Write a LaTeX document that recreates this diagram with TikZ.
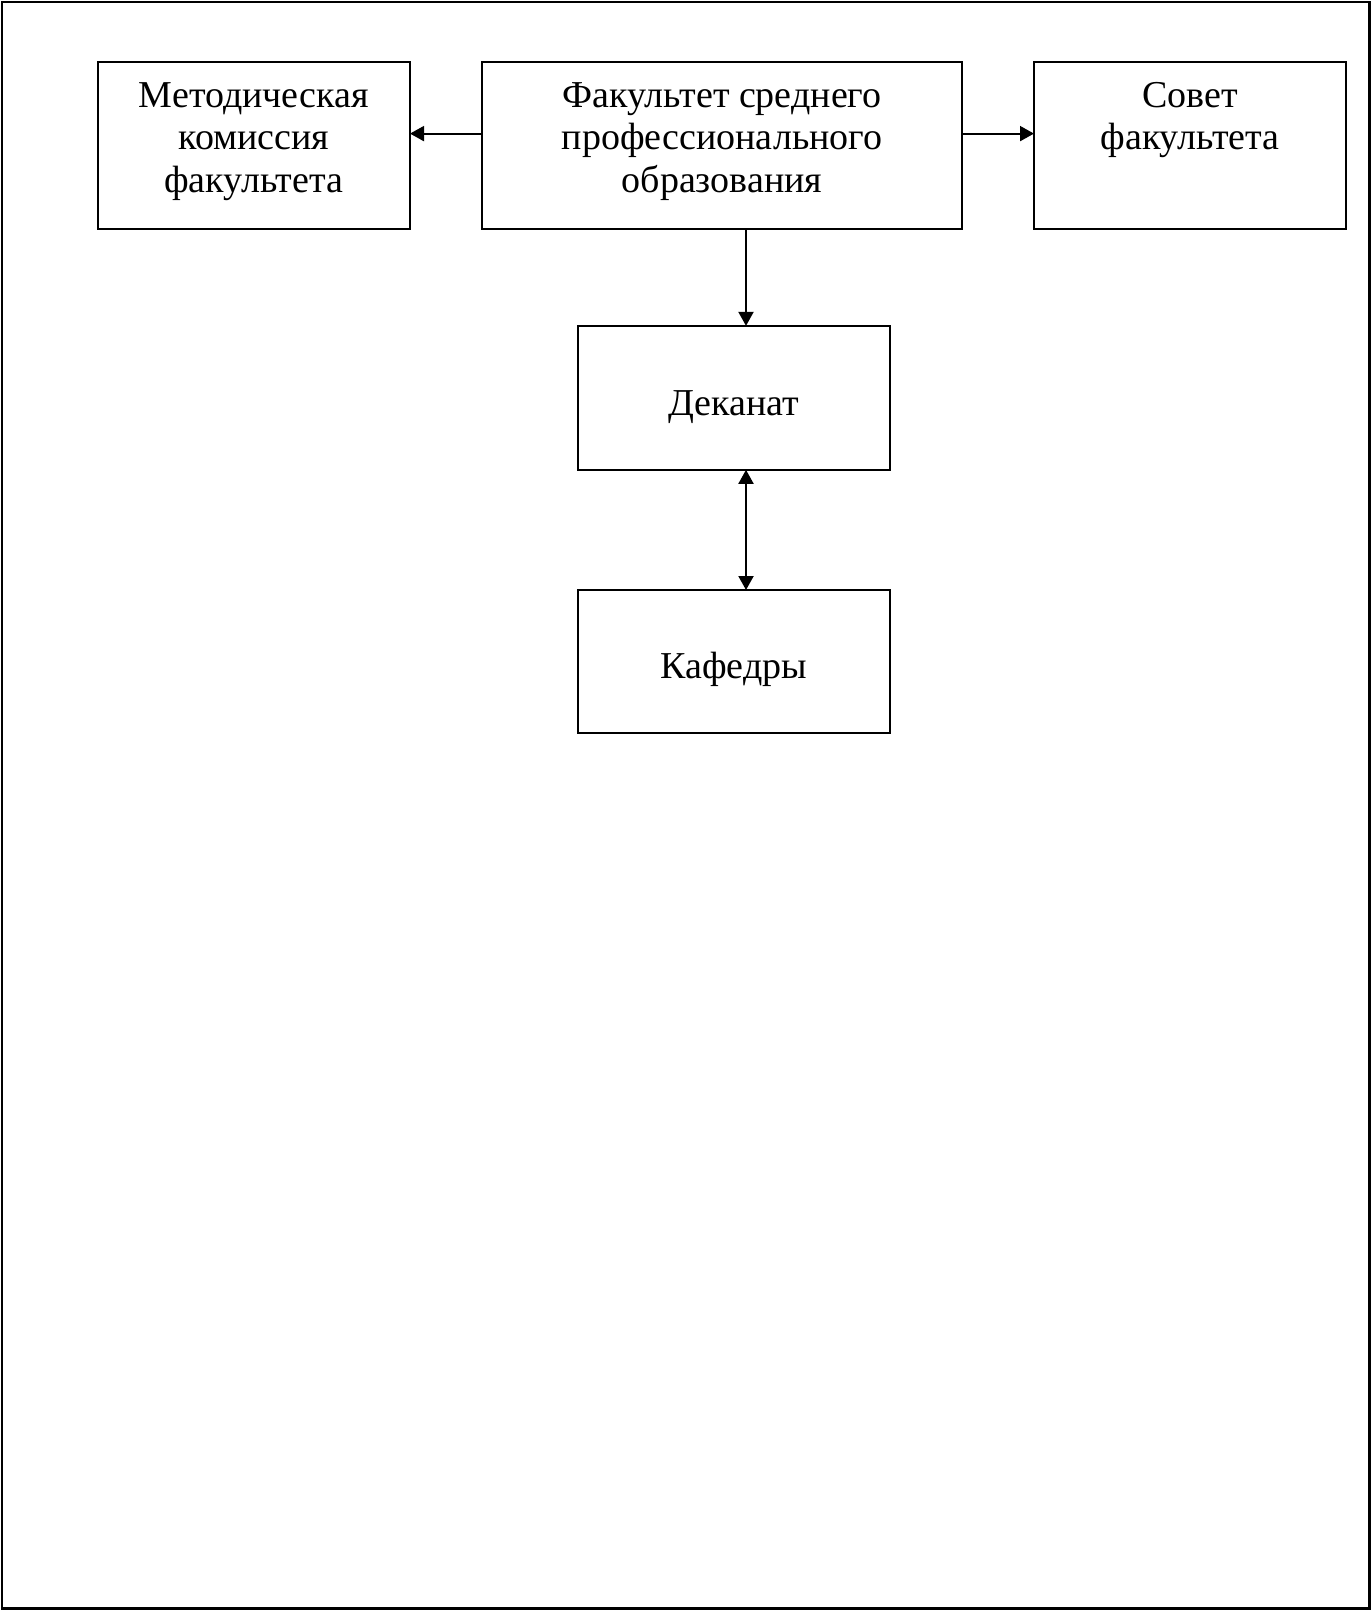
\documentclass[tikz,border=0pt]{standalone}
\usepackage{fontspec}
\setmainfont{Liberation Serif}
\usetikzlibrary{arrows.meta}
\begin{document}
\begin{tikzpicture}[x=1pt,y=-1pt,
  box/.style={draw,line width=2pt,inner sep=0pt,outer sep=0pt},
  lbl/.style={anchor=base,inner sep=0pt,font=\fontsize{38}{42.7}\selectfont},
  arr/.style={line width=2pt,-{Triangle[length=14pt,width=15pt]}},
  arr2/.style={line width=2pt,{Triangle[length=14pt,width=15pt]}-{Triangle[length=14pt,width=15pt]}}]
\useasboundingbox (0,0) rectangle (1372,1611);
\draw[line width=2.5pt] (2,2) rectangle (1369.5,1608.5);
% boxes
\node[box,minimum width=312.3pt,minimum height=167.5pt] (met) at (253.85,145.45) {};
\node[box,minimum width=480pt,minimum height=167.5pt] (fak) at (722,145.45) {};
\node[box,minimum width=312pt,minimum height=167.5pt] (sov) at (1190,145.45) {};
\node[box,minimum width=312.3pt,minimum height=144pt] (dek) at (733.85,397.85) {};
\node[box,minimum width=312.3pt,minimum height=142.7pt] (kaf) at (733.85,661.35) {};
% labels
\node[lbl] (metT) at (253.85,107.3) {\begin{tabular}[t]{@{}c@{}}Методическая\\комиссия\\факультета\end{tabular}};
\node[lbl] (fakT) at (722,107.3) {\begin{tabular}[t]{@{}c@{}}Факультет среднего\\профессионального\\образования\end{tabular}};
\node[lbl] (sovT) at (1190,107.3) {\begin{tabular}[t]{@{}c@{}}Совет\\факультета\end{tabular}};
\node[lbl] (dekT) at (733.85,415) {Деканат};
\node[lbl] (kafT) at (733.85,678) {Кафедры};
% connectors
\coordinate (hy) at (0,133.6);
\coordinate (vx) at (746,0);
\draw[arr] (fak.west |- hy) -- (met.east |- hy);
\draw[arr] (fak.east |- hy) -- (sov.west |- hy);
\draw[arr] (fak.south -| vx) -- (dek.north -| vx);
\draw[arr2] (dek.south -| vx) -- (kaf.north -| vx);
\end{tikzpicture}
\end{document}
